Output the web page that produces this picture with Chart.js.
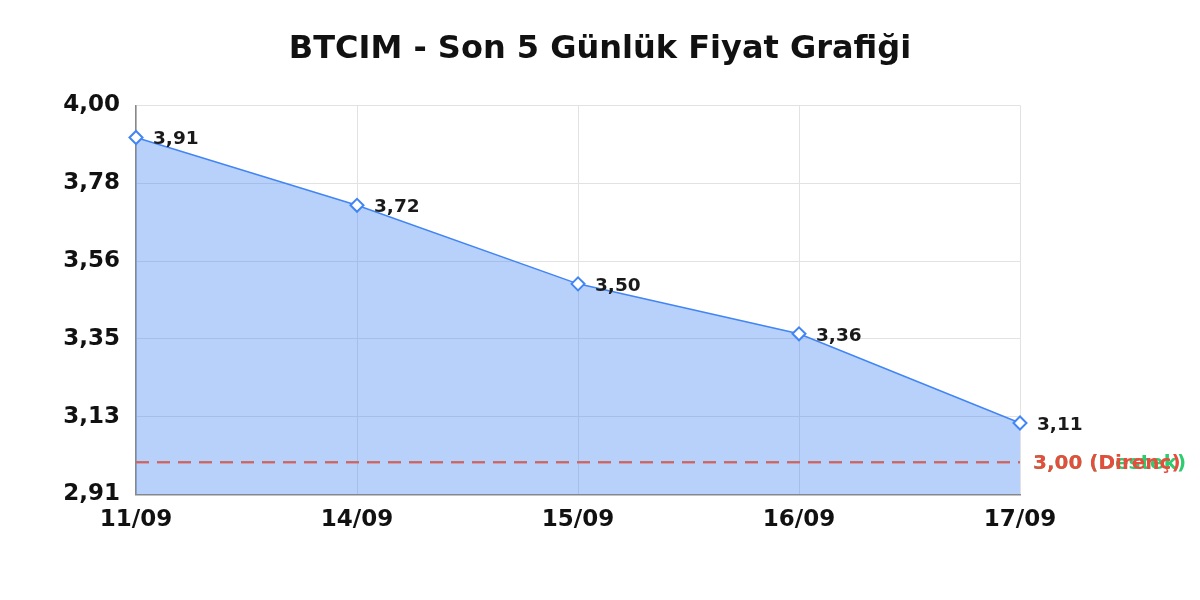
<!DOCTYPE html>
<html lang="tr">
<head>
  <meta charset="UTF-8" />
  <title>BTCIM - Son 5 Günlük Fiyat Grafiği</title>
  <style>
    html, body { margin: 0; padding: 0; background: #fff; }
    #wrap { width: 1200px; height: 600px; }
  </style>
</head>
<body>
  <div id="wrap"><canvas id="fiyatChart"></canvas></div>

  <script src="https://cdn.jsdelivr.net/npm/chart.js"></script>
  <script>
    // veriler
    const gunler = ['11/09', '14/09', '15/09', '16/09', '17/09'];
    const fiyatlar = [3.91, 3.72, 3.50, 3.36, 3.11];
    const destekSeviyesi = 3.00;
    const direncSeviyesi = 3.00;
    const yMin = 2.91;
    const yMax = 4.00;

    const fmt = v => v.toFixed(2).replace('.', ',');
    const font = 'DejaVu Sans, sans-serif';

    // nokta etiketleri + seviye etiketleri
    const etiketPlugin = {
      id: 'etiketler',
      afterDatasetsDraw(chart) {
        const ctx = chart.ctx;
        ctx.save();
        ctx.textAlign = 'left';
        ctx.textBaseline = 'middle';
        ctx.font = 'bold 18.5px ' + font;
        ctx.fillStyle = '#1a1a1a';
        chart.getDatasetMeta(0).data.forEach((p, i) => {
          ctx.fillText(fmt(fiyatlar[i]), p.x + 17, p.y + 2);
        });
        const y = chart.scales.y;
        const x = chart.chartArea.right + 13;
        ctx.font = 'bold 20px ' + font;
        ctx.fillStyle = '#2ecc71';
        ctx.fillText(fmt(destekSeviyesi) + ' (Destek)', x, y.getPixelForValue(destekSeviyesi) + 2);
        ctx.fillStyle = '#e74c3c';
        ctx.fillText(fmt(direncSeviyesi) + ' (Direnç)', x, y.getPixelForValue(direncSeviyesi) + 2);
        ctx.restore();
      }
    };

    new Chart(document.getElementById('fiyatChart'), {
      type: 'line',
      data: {
        labels: gunler,
        datasets: [
          {
            data: fiyatlar,
            borderColor: '#4285f4',
            borderWidth: 1.5,
            backgroundColor: 'rgba(66, 133, 244, 0.38)',
            fill: 'start',
            tension: 0,
            pointStyle: 'rectRot',
            pointRadius: 6.5,
            pointBorderWidth: 2,
            pointBackgroundColor: '#fff',
            pointBorderColor: '#4285f4'
          },
          {
            // direnç (üstte çizilir)
            data: gunler.map(() => direncSeviyesi),
            borderColor: '#ea5560',
            borderWidth: 2,
            borderDash: [13, 8],
            pointRadius: 0,
            fill: false
          },
          {
            // destek
            data: gunler.map(() => destekSeviyesi),
            borderColor: '#2ecc71',
            borderWidth: 2,
            borderDash: [13, 8],
            pointRadius: 0,
            fill: false
          }
        ]
      },
      options: {
        responsive: true,
        maintainAspectRatio: false,
        animation: false,
        layout: { padding: { left: 0, right: 0, top: 0, bottom: 54 } },
        plugins: {
          legend: { display: false },
          tooltip: { enabled: false },
          filler: { drawTime: 'beforeDatasetsDraw' },
          title: {
            display: true,
            text: 'BTCIM - Son 5 Günlük Fiyat Grafiği',
            color: '#111',
            font: { family: font, size: 32, weight: 'bold' },
            padding: { top: 30, bottom: 37 }
          }
        },
        scales: {
          x: {
            grid: { color: '#e2e2e2', drawTicks: false },
            border: { color: '#888', width: 1.5 },
            ticks: { color: '#111', font: { family: font, size: 23, weight: 'bold' }, padding: 12, maxRotation: 0 }
          },
          y: {
            min: yMin,
            max: yMax,
            afterFit: s => { s.width = 136; },
            grid: { color: '#e2e2e2', drawTicks: false },
            border: { color: '#888', width: 1.5 },
            ticks: {
              count: 6,
              color: '#111',
              font: { family: font, size: 23, weight: 'bold' },
              padding: 16,
              callback: v => fmt(v)
            }
          },
          sag: {
            position: 'right',
            min: yMin,
            max: yMax,
            afterFit: s => { s.width = 180; },
            grid: { display: false },
            border: { display: false },
            ticks: { display: false }
          }
        }
      },
      plugins: [etiketPlugin]
    });
  </script>
</body>
</html>
